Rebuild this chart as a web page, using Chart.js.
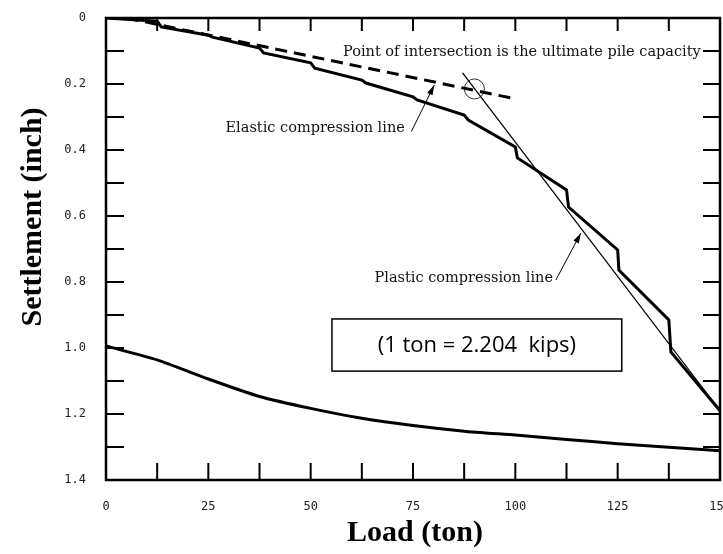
<!DOCTYPE html>
<html>
<head>
<meta charset="utf-8">
<script src="https://cdn.jsdelivr.net/npm/chart.js@4.4.0/dist/chart.umd.min.js"></script>
<style>
  html, body { margin: 0; padding: 0; background: #fff; }
</style>
</head>
<body>
<canvas id="chart" width="723" height="554"></canvas>
<script>
// load test: loading curve (steps at each 12.5 ton increment)
var loadUp = [0, 12.5, 13.5, 25, 26, 37.5, 38.5, 50, 51, 62.5, 63.5, 75, 76, 87.5, 88.5,
              100, 100.5, 112.5, 113, 125, 125.3, 137.5, 138, 150];
var settleUp = [0, 0.01, 0.027, 0.052, 0.058, 0.091, 0.106, 0.136, 0.152, 0.188, 0.197, 0.239, 0.248, 0.294, 0.309,
                0.391, 0.424, 0.521, 0.573, 0.703, 0.764, 0.915, 1.012, 1.19];

// lower curve
var loadLow = [0, 12.5, 25, 37.5, 50, 62.5, 75, 87.5, 100, 112.5, 125, 137.5, 150];
var settleLow = [0.994, 1.036, 1.094, 1.147, 1.183, 1.213, 1.235, 1.252, 1.264, 1.277, 1.29, 1.301, 1.311];

// construction lines
var elasticLoad = [5, 100];
var elasticSettle = [0, 0.245];
var plasticLoad = [87.1, 150];
var plasticSettle = [0.166, 1.19];
var capacityLoad = [90];
var capacitySettle = [0.215];

// leader arrows (tail, head)
var elasticArrowLoad = [74.6, 80.2];
var elasticArrowSettle = [0.344, 0.203];
var plasticArrowLoad = [109.9, 116];
var plasticArrowSettle = [0.794, 0.652];

var xTicks = [0, 25, 50, 75, 100, 125, 150];
var yTicks = [0, 0.2, 0.4, 0.6, 0.8, 1.0, 1.2, 1.4];

function pts(xs, ys) {
    return xs.map(function (v, i) { return { x: v, y: ys[i] }; });
}

var frame = {
    id: 'frame',
    afterDatasetsDraw: function (chart) {
        var c = chart.ctx, a = chart.chartArea;
        var x = chart.scales.x, y = chart.scales.y;
        c.save();
        c.strokeStyle = '#000';
        c.lineWidth = 2.5;
        c.strokeRect(a.left, a.top, a.right - a.left, a.bottom - a.top);

        // inward tick marks
        c.lineWidth = 2;
        c.beginPath();
        for (var v = 12.5; v < 150; v += 12.5) {
            var px = x.getPixelForValue(v);
            c.moveTo(px, a.bottom); c.lineTo(px, a.bottom - 17);
            c.moveTo(px, a.top); c.lineTo(px, a.top + 13);
        }
        for (var i = 1; i < 14; i++) {
            var py = y.getPixelForValue(i / 10);
            c.moveTo(a.left, py); c.lineTo(a.left + 18, py);
            c.moveTo(a.right, py); c.lineTo(a.right - 17, py);
        }
        c.stroke();

        // arrow heads on the leader lines
        [5, 6].forEach(function (idx) {
            var d = chart.getDatasetMeta(idx).data;
            var p0 = d[0], p1 = d[d.length - 1];
            var ang = Math.atan2(p1.y - p0.y, p1.x - p0.x);
            c.fillStyle = '#000';
            c.beginPath();
            c.moveTo(p1.x, p1.y);
            c.lineTo(p1.x - 10 * Math.cos(ang) + 3 * Math.sin(ang), p1.y - 10 * Math.sin(ang) - 3 * Math.cos(ang));
            c.lineTo(p1.x - 10 * Math.cos(ang) - 3 * Math.sin(ang), p1.y - 10 * Math.sin(ang) + 3 * Math.cos(ang));
            c.closePath();
            c.fill();
        });

        // notes
        c.fillStyle = '#111';
        c.textBaseline = 'middle';
        c.font = '14.5px "DejaVu Serif"';
        c.textAlign = 'left';
        c.fillText('Point of intersection is the ultimate pile capacity', x.getPixelForValue(57.9), y.getPixelForValue(0.103));
        c.textAlign = 'right';
        c.fillText('Elastic compression line', x.getPixelForValue(73), y.getPixelForValue(0.333));
        c.fillText('Plastic compression line', x.getPixelForValue(109.2), y.getPixelForValue(0.788));

        // unit box
        var bx0 = x.getPixelForValue(55.2), bx1 = x.getPixelForValue(126);
        var by0 = y.getPixelForValue(0.912), by1 = y.getPixelForValue(1.07);
        c.fillStyle = '#fff';
        c.fillRect(bx0, by0, bx1 - bx0, by1 - by0);
        c.lineWidth = 1.5;
        c.strokeRect(bx0, by0, bx1 - bx0, by1 - by0);
        c.fillStyle = '#000';
        c.textAlign = 'center';
        c.font = '22px "Open Sans"';
        c.fillText('(1 ton = 2.204  kips)', (bx0 + bx1) / 2, (by0 + by1) / 2 + 1);

        // axis titles
        c.font = 'bold 30px "Liberation Serif"';
        c.fillText('Load (ton)', 415, 533);
        c.translate(33, 217);
        c.rotate(-Math.PI / 2);
        c.fillText('Settlement (inch)', 0, 0);
        c.restore();
    }
};

var tickFont = { family: 'DejaVu Sans Mono', size: 12 };

new Chart(document.getElementById('chart').getContext('2d'), {
    type: 'scatter',
    data: {
        datasets: [
            { data: pts(loadUp, settleUp), showLine: true, borderColor: '#000', borderWidth: 3, pointRadius: 0 },
            { data: pts(loadLow, settleLow), showLine: true, borderColor: '#000', borderWidth: 3, pointRadius: 0, tension: 0.2 },
            { data: pts(elasticLoad, elasticSettle), showLine: true, borderColor: '#000', borderWidth: 3, borderDash: [12, 7], pointRadius: 0 },
            { data: pts(plasticLoad, plasticSettle), showLine: true, borderColor: '#000', borderWidth: 1.3, pointRadius: 0 },
            { data: pts(capacityLoad, capacitySettle), pointRadius: 10, pointBorderWidth: 1, pointBorderColor: '#333', pointBackgroundColor: 'rgba(0,0,0,0)' },
            { data: pts(elasticArrowLoad, elasticArrowSettle), showLine: true, borderColor: '#000', borderWidth: 1, pointRadius: 0 },
            { data: pts(plasticArrowLoad, plasticArrowSettle), showLine: true, borderColor: '#000', borderWidth: 1, pointRadius: 0 }
        ]
    },
    options: {
        responsive: false,
        animation: false,
        devicePixelRatio: 1,
        layout: { autoPadding: false, padding: { top: 18, right: 3, left: 0, bottom: 0 } },
        plugins: { legend: { display: false }, tooltip: { enabled: false } },
        scales: {
            x: {
                type: 'linear', min: 0, max: 150,
                afterBuildTicks: function (s) { s.ticks = xTicks.map(function (v) { return { value: v }; }); },
                ticks: { padding: 20, font: tickFont, color: '#222', maxRotation: 0, autoSkip: false },
                grid: { display: false, drawTicks: false },
                border: { display: false },
                afterFit: function (s) { s.height = 74; s.paddingLeft = 0; s.paddingRight = 0; }
            },
            y: {
                type: 'linear', min: 0, max: 1.4, reverse: true,
                afterBuildTicks: function (s) { s.ticks = yTicks.map(function (v) { return { value: v }; }); },
                ticks: {
                    padding: 20, font: tickFont, color: '#222',
                    callback: function (v) { return v === 0 ? '0' : v.toFixed(1); }
                },
                grid: { display: false, drawTicks: false },
                border: { display: false },
                afterFit: function (s) { s.width = 106; s.paddingTop = 0; s.paddingBottom = 0; }
            }
        }
    },
    plugins: [frame]
});
</script>
</body>
</html>
